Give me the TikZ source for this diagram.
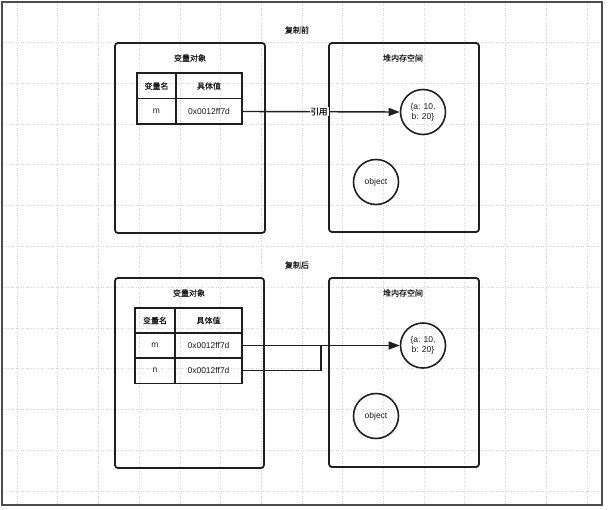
\documentclass[tikz,border=0pt]{standalone}
\usepackage{fontspec}
\setmainfont{Liberation Sans}
\newfontfamily\cjk[FakeBold=0.6]{Noto Sans CJK SC}
\usetikzlibrary{arrows.meta}

\begin{document}
\begin{tikzpicture}[x=1pt,y=-1pt,
  pageframe/.style={draw=black!70, line width=1.1pt},
  gridline/.style={draw=black!16, line width=0.5pt, dotted},
  area/.style={draw=black!88, line width=1.8pt, rounded corners=3pt},
  areatitle/.style={font=\cjk\fontsize{8}{10}\selectfont, text=black!90},
  cell/.style={draw=black!88, line width=1.5pt, inner sep=0pt,
    minimum height=25.5pt, font=\fontsize{8.5}{10}\selectfont, text=black!90},
  headcell/.style={cell, font=\cjk\fontsize{8}{10}\selectfont},
  heapobj/.style={circle, draw=black!88, line width=1.6pt, minimum size=45pt,
    inner sep=0pt, align=center, font=\fontsize{8.5}{10}\selectfont, text=black!90},
  ref/.style={draw=black!88, line width=1.4pt},
  refarrow/.style={ref, -{Triangle[length=11pt,width=8pt]}},
  reflabel/.style={fill=white, inner sep=1pt, font=\cjk\fontsize{8.5}{10}\selectfont, text=black!90}
]
\useasboundingbox (0,0) rectangle (609,510);

% faint background grid
\foreach \i in {0,...,14} {
  \draw[gridline] (17+40.7*\i,3) -- (17+40.7*\i,504);
}
\foreach \j in {0,...,12} {
  \draw[gridline] (3,1.5+40.8*\j) -- (601,1.5+40.8*\j);
}

% outer frame
\draw[pageframe] (2,2) rectangle (602,505);

% ---------- before copying ----------
\node[areatitle] (t1) at (297,30) {复制前};

\draw[area] (115,43) rectangle (265,233);
\node[areatitle] (vo1) at (190,58) {变量对象};
\draw[area] (329,43) rectangle (479,232);
\node[areatitle] (hs1) at (403,58) {堆内存空间};

\node[headcell, minimum width=39pt] (h1n) at (156.5,86) {变量名};
\node[headcell, minimum width=66pt] (h1v) at (209,86) {具体值};
\node[cell, minimum width=39pt] (m1n) at (156.5,111.5) {m};
\node[cell, minimum width=66pt] (m1v) at (209,111.5) {0x0012ff7d};

\node[heapobj] (ab1) at (423,112) {\{a: 10,\\b: 20\}};
\node[heapobj] (ob1) at (376,182) {object};

\draw[refarrow] (m1v.east) -- (ab1.west);
\node[reflabel] (r1) at (319,111.5) {引用};

% ---------- after copying ----------
\node[areatitle] (t2) at (297,265) {复制后};

\draw[area] (115,278) rectangle (264,468);
\node[areatitle] (vo2) at (189,293) {变量对象};
\draw[area] (329,278) rectangle (479,467);
\node[areatitle] (hs2) at (403,293) {堆内存空间};

\node[headcell, minimum width=40pt] (h2n) at (155,320.5) {变量名};
\node[headcell, minimum width=67pt] (h2v) at (208.5,320.5) {具体值};
\node[cell, minimum width=40pt] (m2n) at (155,345.5) {m};
\node[cell, minimum width=67pt] (m2v) at (208.5,345.5) {0x0012ff7d};
\node[cell, minimum width=40pt] (n2n) at (155,370.5) {n};
\node[cell, minimum width=67pt] (n2v) at (208.5,370.5) {0x0012ff7d};

\node[heapobj] (ab2) at (423,345.5) {\{a: 10,\\b: 20\}};
\node[heapobj] (ob2) at (376,416) {object};

\coordinate (join) at (321,345.5);
\draw[refarrow] (m2v.east) -- (ab2.west);
\draw[ref] (n2v.east) -| (join);

\end{tikzpicture}
\end{document}
